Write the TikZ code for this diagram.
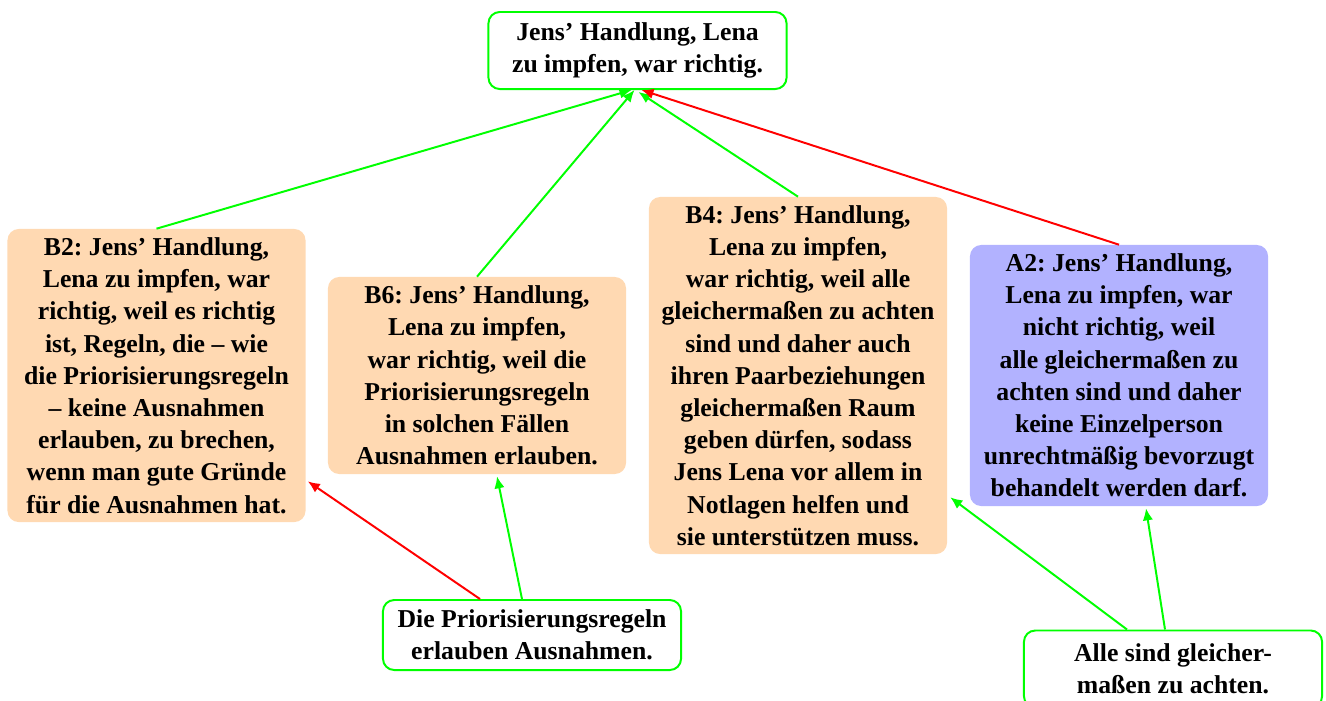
\documentclass[tikz,border=0pt]{standalone}
\usepackage{fontspec}
\setmainfont{Liberation Serif}
\frenchspacing
\usepackage{tikz}
\usetikzlibrary{calc,arrows.meta}

\begin{document}
\begin{tikzpicture}[x=0.025cm,y=-0.025cm,
    box/.style={rounded corners=8pt, align=center, minimum width=7.45cm, inner sep=2pt,
        font=\fontsize{18.3}{22.9}\selectfont\bfseries},
    claimbox/.style={box, draw=green, fill=white, line width=1.4pt},
    probox/.style={box, fill=orange!30},
    conbox/.style={box, fill=blue!30},
    pro/.style={draw=green, line width=1.4pt, -{Latex[length=3mm,width=2.6mm]}},
    con/.style={draw=red, line width=1.4pt, -{Latex[length=3mm,width=2.6mm]}}]
        \useasboundingbox (0,0) rectangle (1326,700);
        \node[claimbox, minimum height=1.925cm] (claim) at (637.5,50.5)
            {Jens' Handlung, Lena\\zu impfen, war richtig.};
        \node[probox, minimum height=7.325cm] (b2) at (156.5,375.5)
            {B2: Jens' Handlung,\\Lena zu impfen, war\\richtig, weil es richtig\\ist, Regeln, die -- wie\\die Priorisierungsregeln\\-- keine Ausnahmen\\erlauben, zu brechen,\\wenn man gute Gründe\\für die Ausnahmen hat.};
        \node[probox, minimum height=4.925cm] (b6) at (477,375.5)
            {B6: Jens' Handlung,\\Lena zu impfen,\\war richtig, weil die\\Priorisierungsregeln\\in solchen Fällen\\Ausnahmen erlauben.};
        \node[probox, minimum height=8.925cm] (b4) at (798,375.5)
            {B4: Jens' Handlung,\\Lena zu impfen,\\war richtig, weil alle\\gleichermaßen zu achten\\sind und daher auch\\ihren Paarbeziehungen\\gleichermaßen Raum\\geben dürfen, sodass\\Jens Lena vor allem in\\Notlagen helfen und\\sie unterstützen muss.};
        \node[conbox, minimum height=6.525cm] (a2) at (1119,375.5)
            {A2: Jens' Handlung,\\Lena zu impfen, war\\nicht richtig, weil\\alle gleichermaßen zu\\achten sind und daher\\keine Einzelperson\\unrechtmäßig bevorzugt\\behandelt werden darf.};
        \node[claimbox, minimum height=1.75cm] (rules) at (532,635)
            {Die Priorisierungsregeln\\erlauben Ausnahmen.};
        \node[claimbox, minimum height=1.925cm] (equal) at (1173,669)
            {Alle sind gleicher-\\maßen zu achten.};

        \draw[pro] (b2.north) -- ($(claim.south)+(-6,0)$);
        \draw[pro] (b6.north) -- ($(claim.south)+(-3,0)$);
        \draw[pro] (b4.north) -- ($(claim.south)+(1,2)$);
        \draw[con] (a2.north) -- ($(claim.south)+(4,0)$);
        \draw[con] ($(rules.north)+(-52,0)$) -- ($(b2.south east)+(2,-41)$);
        \draw[pro] ($(rules.north)+(-10,0)$) -- ($(b6.south)+(20,2)$);
        \draw[pro] ($(equal.north)+(-46,0)$) -- ($(b4.south east)+(3,-57)$);
        \draw[pro] ($(equal.north)+(-8,0)$) -- ($(a2.south)+(27,2)$);
    \end{tikzpicture}
\end{document}
